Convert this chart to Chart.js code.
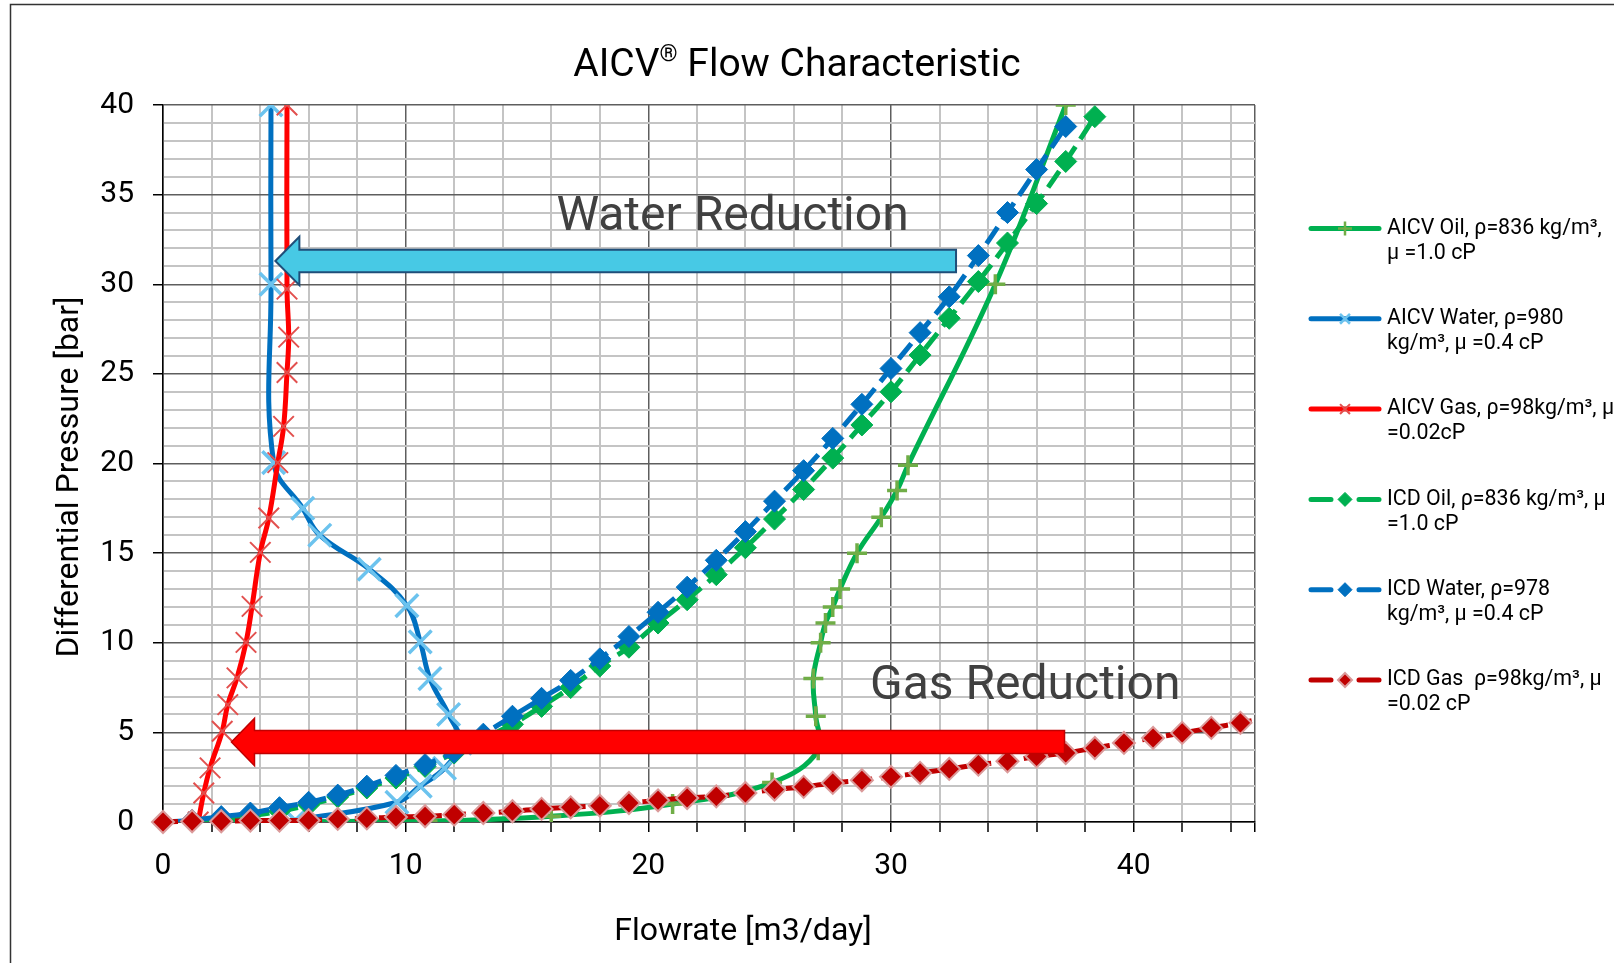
<!DOCTYPE html>
<html>
<head>
<meta charset="utf-8">
<title>AICV Flow Characteristic</title>
<script src="https://cdn.jsdelivr.net/npm/chart.js@4.4.0/dist/chart.umd.min.js"></script>
<style>
    html, body { margin: 0; padding: 0; background: #ffffff; }
    #wrap { position: relative; width: 1614px; height: 963px; }
</style>
</head>
<body>
<div id="wrap"><canvas id="myChart"></canvas></div>
<script>
// AICV curves (x = flowrate m3/day, y = differential pressure bar)
let aicvOilX = [0, 10.9, 16.0, 21.0, 25.1, 27.0, 26.9, 26.8, 27.1, 27.3, 27.6, 27.9, 28.6, 29.6, 30.25, 30.7, 34.3, 37.2];
let aicvOilY = [0, 0.05, 0.32, 1.0, 2.2, 4.0, 5.9, 8.0, 10.0, 11.1, 12.0, 13.0, 15.0, 17.0, 18.5, 19.9, 30.0, 40.0];

let aicvWaterX = [5.45, 9.64, 10.6, 11.6, 12.25, 11.77, 11.0, 10.6, 10.05, 8.5, 6.46, 5.76, 4.56, 4.45, 4.45];
let aicvWaterY = [0.1, 1.1, 2.0, 3.0, 4.4, 6.0, 8.0, 10.05, 12.07, 14.1, 16.0, 17.5, 20.05, 30.0, 40.0];

let aicvGasX = [1.45, 1.68, 1.94, 2.44, 2.67, 3.05, 3.42, 3.67, 4.01, 4.36, 4.73, 4.97, 5.11, 5.18, 5.11, 5.11];
let aicvGasY = [0.0, 1.62, 3.02, 5.06, 6.55, 8.04, 10.02, 12.03, 15.04, 16.96, 20.05, 22.07, 25.08, 27.05, 29.73, 40.0];

// ICD curves share the same flowrate points
let icdFlow = [0, 1.2, 2.4, 3.6, 4.8, 6.0, 7.2, 8.4, 9.6, 10.8, 12.0, 13.2, 14.4, 15.6, 16.8, 18.0, 19.2, 20.4,
    21.6, 22.8, 24.0, 25.2, 26.4, 27.6, 28.8, 30.0, 31.2, 32.4, 33.6, 34.8, 36.0, 37.2, 38.4, 39.6, 40.8, 42.0,
    43.2, 44.4, 45.6];
let icdOilY = [0, 0.05, 0.15, 0.35, 0.6, 0.95, 1.4, 1.9, 2.45, 3.1, 3.85, 4.65, 5.45, 6.45, 7.5, 8.7, 9.75, 11.1,
    12.4, 13.8, 15.3, 16.9, 18.55, 20.3, 22.15, 24.0, 26.05, 28.1, 30.15, 32.3, 34.5, 36.85, 39.35];
let icdWaterY = [0, 0.1, 0.3, 0.5, 0.8, 1.1, 1.5, 2.0, 2.6, 3.2, 3.9, 4.9, 5.9, 6.9, 7.9, 9.1, 10.35, 11.7,
    13.1, 14.6, 16.2, 17.9, 19.6, 21.4, 23.3, 25.3, 27.3, 29.3, 31.6, 34.0, 36.4, 38.8];
let icdGasY = [0.0, 0.04, 0.04, 0.08, 0.08, 0.1, 0.17, 0.2, 0.28, 0.32, 0.41, 0.5, 0.6, 0.73, 0.82, 0.91, 1.06, 1.21,
    1.34, 1.43, 1.62, 1.81, 1.96, 2.18, 2.33, 2.52, 2.74, 2.96, 3.2, 3.39, 3.66, 3.85, 4.13, 4.41, 4.69, 4.97,
    5.25, 5.53, 5.85];

let seriesNames = [
    ['AICV Oil, ρ=836 kg/m³,', 'μ =1.0 cP'],
    ['AICV Water, ρ=980', 'kg/m³, μ =0.4 cP'],
    ['AICV Gas, ρ=98kg/m³, μ', '=0.02cP'],
    ['ICD Oil, ρ=836 kg/m³, μ', '=1.0 cP'],
    ['ICD Water, ρ=978', 'kg/m³, μ =0.4 cP'],
    ['ICD Gas  ρ=98kg/m³, μ', '=0.02 cP']
];

let xTickLabels = [0, 10, 20, 30, 40];
let yTickLabels = [0, 5, 10, 15, 20, 25, 30, 35, 40];

// callouts, in chart units
let arrows = [
    { tip: 4.63, head: 5.62, tail: 32.68, y: 31.3, shaft: 0.63, half: 1.35, fill: '#47C9E5', stroke: '#1F4E79', lw: 2 },
    { tip: 2.82, head: 3.77, tail: 37.15, y: 4.46, shaft: 0.64, half: 1.32, fill: '#FF0000', stroke: '#C00000', lw: 1.5 }
];
let notes = [
    { text: 'Water Reduction', x: 23.47, y: 33.04 },
    { text: 'Gas Reduction', x: 35.53, y: 6.87 }
];

function pts(xs, ys) {
    let out = [];
    for (let i = 0; i < ys.length; i++) out.push({ x: xs[i], y: ys[i] });
    return out;
}

const FONT = 'Roboto, "Noto Sans", sans-serif';

function drawMarker(ctx, style, x, y, r, fill, stroke, lw) {
    ctx.save();
    ctx.lineWidth = lw;
    ctx.strokeStyle = stroke;
    ctx.fillStyle = fill;
    ctx.beginPath();
    if (style === 'rectRot') {
        ctx.moveTo(x, y - r); ctx.lineTo(x + r, y); ctx.lineTo(x, y + r); ctx.lineTo(x - r, y);
        ctx.closePath();
        ctx.fill();
        ctx.stroke();
    } else if (style === 'cross') {
        ctx.moveTo(x - r, y); ctx.lineTo(x + r, y); ctx.moveTo(x, y - r); ctx.lineTo(x, y + r);
        ctx.stroke();
    } else {
        let d = r * Math.SQRT1_2;
        ctx.moveTo(x - d, y - d); ctx.lineTo(x + d, y + d); ctx.moveTo(x + d, y - d); ctx.lineTo(x - d, y + d);
        ctx.stroke();
    }
    ctx.restore();
}

const overlay = {
    id: 'overlay',
    beforeDraw(chart) {
        const ctx = chart.ctx;
        ctx.save();
        ctx.fillStyle = '#ffffff';
        ctx.fillRect(0, 0, chart.width, chart.height);
        ctx.restore();
    },
    afterDatasetsDraw(chart) {
        const ctx = chart.ctx;
        const xs = chart.scales.x, ys = chart.scales.y;
        ctx.save();
        arrows.forEach(a => {
            const cy = ys.getPixelForValue(a.y);
            const sh = ys.getPixelForValue(a.y - a.shaft) - cy;
            const hh = ys.getPixelForValue(a.y - a.half) - cy;
            const tip = xs.getPixelForValue(a.tip);
            const head = xs.getPixelForValue(a.head);
            const tail = xs.getPixelForValue(a.tail);
            ctx.beginPath();
            ctx.moveTo(tip, cy);
            ctx.lineTo(head, cy - hh);
            ctx.lineTo(head, cy - sh);
            ctx.lineTo(tail, cy - sh);
            ctx.lineTo(tail, cy + sh);
            ctx.lineTo(head, cy + sh);
            ctx.lineTo(head, cy + hh);
            ctx.closePath();
            ctx.fillStyle = a.fill;
            ctx.fill();
            ctx.lineWidth = a.lw;
            ctx.strokeStyle = a.stroke;
            ctx.lineJoin = 'miter';
            ctx.stroke();
        });
        ctx.fillStyle = '#404040';
        ctx.font = '48px ' + FONT;
        ctx.textAlign = 'center';
        ctx.textBaseline = 'alphabetic';
        notes.forEach(n => {
            ctx.fillText(n.text, xs.getPixelForValue(n.x), ys.getPixelForValue(n.y));
        });
        ctx.restore();
    },
    afterDraw(chart) {
        const ctx = chart.ctx;
        ctx.save();
        // outer frame
        ctx.strokeStyle = '#333333';
        ctx.lineWidth = 1.5;
        ctx.strokeRect(10.5, 4.5, 1700, 1100);

        // chart title with superscript mark
        ctx.fillStyle = '#000000';
        ctx.textBaseline = 'alphabetic';
        ctx.textAlign = 'left';
        const big = '39px ' + FONT, small = '23px ' + FONT;
        ctx.font = big;
        const w1 = ctx.measureText('AICV').width;
        const w3 = ctx.measureText(' Flow Characteristic').width;
        ctx.font = small;
        const w2 = ctx.measureText('®').width;
        let tx = 797 - (w1 + w2 + w3) / 2;
        ctx.font = big;
        ctx.fillText('AICV', tx, 76);
        ctx.font = small;
        ctx.fillText('®', tx + w1, 61);
        ctx.font = big;
        ctx.fillText(' Flow Characteristic', tx + w1 + w2, 76);

        // axis titles
        ctx.font = '32px ' + FONT;
        ctx.textAlign = 'center';
        ctx.textBaseline = 'middle';
        ctx.fillText('Flowrate [m3/day]', 743, 932);
        ctx.save();
        ctx.translate(70, 477);
        ctx.rotate(-Math.PI / 2);
        ctx.fillText('Differential Pressure [bar]', 0, 0);
        ctx.restore();

        // legend
        ctx.font = '21.4px ' + FONT;
        ctx.textAlign = 'left';
        ctx.textBaseline = 'middle';
        chart.data.datasets.forEach((ds, i) => {
            const cy = 228.5 + 90.3 * i;
            ctx.save();
            ctx.strokeStyle = ds.borderColor;
            ctx.lineWidth = 5;
            ctx.lineCap = 'round';
            ctx.beginPath();
            if (ds.borderDash) {
                ctx.moveTo(1311, cy); ctx.lineTo(1331, cy);
                ctx.moveTo(1359, cy); ctx.lineTo(1379, cy);
            } else {
                ctx.moveTo(1311, cy); ctx.lineTo(1379, cy);
            }
            ctx.stroke();
            ctx.restore();
            drawMarker(ctx, ds.pointStyle, 1345, cy, Math.min(ds.pointRadius, 7),
                ds.pointBackgroundColor, ds.pointBorderColor, Math.min(ds.pointBorderWidth, 2.5));
            ctx.fillStyle = '#000000';
            ctx.fillText(seriesNames[i][0], 1387, cy);
            ctx.fillText(seriesNames[i][1], 1387, cy + 25);
        });
        ctx.restore();
    }
};

let myChart = document.getElementById('myChart').getContext('2d');
let chart = new Chart(myChart, {
    type: 'scatter',
    data: {
        datasets: [
            {
                label: seriesNames[0].join(' '),
                data: pts(aicvOilX, aicvOilY),
                showLine: true, tension: 0.4, order: 6,
                borderColor: '#00B050', borderWidth: 5,
                pointStyle: 'cross', pointRadius: 10, pointBorderWidth: 3.5,
                pointBorderColor: '#70AD47', pointBackgroundColor: '#70AD47'
            },
            {
                label: seriesNames[1].join(' '),
                data: pts(aicvWaterX, aicvWaterY),
                showLine: true, tension: 0.4, order: 5,
                borderColor: '#0070C0', borderWidth: 5,
                pointStyle: 'crossRot', pointRadius: 16, pointBorderWidth: 3.5,
                pointBorderColor: '#6CC3EE', pointBackgroundColor: '#6CC3EE'
            },
            {
                label: seriesNames[2].join(' '),
                data: pts(aicvGasX, aicvGasY),
                showLine: true, tension: 0.4, order: 4,
                borderColor: '#FF0000', borderWidth: 5,
                pointStyle: 'crossRot', pointRadius: 14.5, pointBorderWidth: 2,
                pointBorderColor: '#E2504E', pointBackgroundColor: '#E2504E'
            },
            {
                label: seriesNames[3].join(' '),
                data: pts(icdFlow, icdOilY),
                showLine: true, tension: 0.4, order: 3,
                borderColor: '#00B050', borderWidth: 5, borderDash: [20, 9],
                pointStyle: 'rectRot', pointRadius: 11, pointBorderWidth: 1,
                pointBorderColor: '#00B050', pointBackgroundColor: '#00B050'
            },
            {
                label: seriesNames[4].join(' '),
                data: pts(icdFlow, icdWaterY),
                showLine: true, tension: 0.4, order: 2,
                borderColor: '#0070C0', borderWidth: 5, borderDash: [20, 9],
                pointStyle: 'rectRot', pointRadius: 11, pointBorderWidth: 1,
                pointBorderColor: '#0070C0', pointBackgroundColor: '#0070C0'
            },
            {
                label: seriesNames[5].join(' '),
                data: pts(icdFlow, icdGasY),
                showLine: true, tension: 0.4, order: 1,
                clip: { left: 15, top: 15, right: 0, bottom: 15 },
                borderColor: '#C00000', borderWidth: 5, borderDash: [15, 9],
                pointStyle: 'rectRot', pointRadius: 11, pointBorderWidth: 2,
                pointBorderColor: '#DB9A9A', pointBackgroundColor: '#C00000'
            }
        ]
    },
    options: {
        responsive: true,
        maintainAspectRatio: false,
        animation: false,
        layout: { padding: { left: 0, top: 105, right: 359, bottom: 0 } },
        plugins: {
            legend: { display: false },
            title: { display: false },
            tooltip: { enabled: false }
        },
        scales: {
            x: {
                type: 'linear', min: 0, max: 45,
                afterBuildTicks: s => {
                    let t = [];
                    for (let v = 0; v <= 44; v += 2) t.push({ value: v });
                    t.push({ value: 45 });
                    s.ticks = t;
                },
                afterFit: s => { s.height = 141; },
                grid: {
                    color: c => (c.tick && (c.tick.value % 10 === 0 || c.tick.value === 45)) ? '#5e5e5e' : '#c4c4c4',
                    lineWidth: c => (c.tick && (c.tick.value % 10 === 0 || c.tick.value === 45)) ? 1.5 : 2,
                    tickLength: 10,
                    tickColor: '#000000',
                    tickWidth: 1.5
                },
                border: { color: '#000000', width: 1.5 },
                ticks: {
                    autoSkip: false, maxRotation: 0, minRotation: 0, padding: 16,
                    color: '#000000',
                    font: { family: FONT, size: 30 },
                    callback: v => xTickLabels.includes(v) ? String(v) : ''
                }
            },
            y: {
                type: 'linear', min: 0, max: 40,
                afterBuildTicks: s => {
                    let t = [];
                    for (let v = 0; v <= 40; v += 1) t.push({ value: v });
                    s.ticks = t;
                },
                afterFit: s => { s.width = 163; },
                grid: {
                    color: c => (c.tick && c.tick.value % 5 === 0) ? '#5e5e5e' : '#c4c4c4',
                    lineWidth: c => (c.tick && c.tick.value % 5 === 0) ? 1.5 : 2,
                    tickLength: 10,
                    tickColor: c => (c.tick && c.tick.value % 5 === 0) ? '#000000' : 'rgba(0,0,0,0)',
                    tickWidth: 1.5
                },
                border: { color: '#000000', width: 1.5 },
                ticks: {
                    autoSkip: false, padding: 19,
                    color: '#000000',
                    font: { family: FONT, size: 30 },
                    callback: v => yTickLabels.includes(v) ? String(v) : ''
                }
            }
        }
    },
    plugins: [overlay]
});
</script>
</body>
</html>
